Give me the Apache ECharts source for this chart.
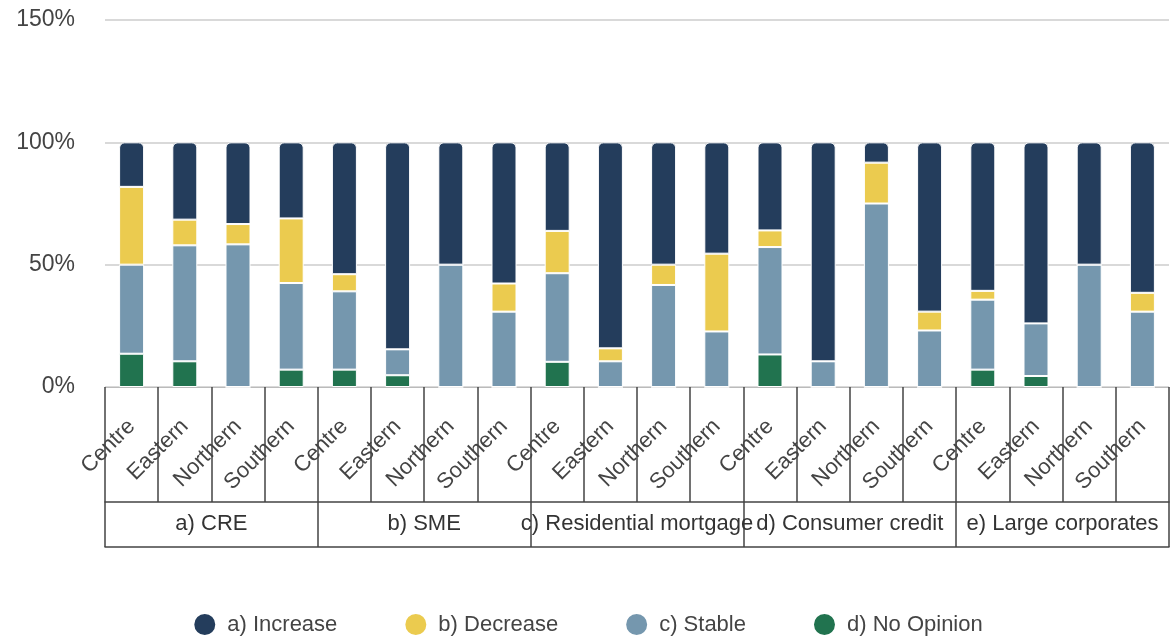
<!DOCTYPE html>
<html>
<head>
<meta charset="utf-8">
<script src="https://cdn.jsdelivr.net/npm/echarts@6/dist/echarts.min.js"></script>
<style>
html,body{margin:0;padding:0;background:#fff;}
#chart{width:1175px;height:639px;}
</style>
</head>
<body>
<div id="chart"></div>
<script>
// Categories
const regions = ["Centre","Eastern","Northern","Southern","Centre","Eastern","Northern","Southern","Centre","Eastern","Northern","Southern","Centre","Eastern","Northern","Southern","Centre","Eastern","Northern","Southern"];
const groups = ["a) CRE","b) SME","c) Residential mortgage","d) Consumer credit","e) Large corporates"];
const yTicks = [0, 50, 100, 150];

// Series values (percent), order follows regions
const noOpinion = [13.6, 10.5, 0, 7.1,   7.1, 4.8, 0, 0,     10.3, 0, 0, 0,      13.3, 0, 0, 0,      7.1, 4.5, 0, 0];
const stable    = [36.4, 47.4, 58.3, 35.4, 32.0, 10.6, 50, 30.8, 36.2, 10.5, 41.7, 22.7, 43.9, 10.5, 75.0, 23.1, 28.6, 21.5, 50, 30.8];
const decrease  = [31.8, 10.5, 8.3, 26.4, 7.0, 0, 0, 11.5,   17.3, 5.3, 8.3, 31.8, 6.8, 0, 16.7, 7.7,   3.6, 0, 0, 7.7];
const increase  = [18.2, 31.6, 33.4, 31.1, 53.9, 84.6, 50, 57.7, 36.2, 84.2, 50, 45.5, 36.0, 89.5, 8.3, 69.2, 60.7, 74.0, 50, 61.5];

const names = ["a) Increase","b) Decrease","c) Stable","d) No Opinion"];
const colors = {inc:"#243d5c", dec:"#ebcb4f", sta:"#7597ae", no:"#21734f"};
const FONT = "'Liberation Sans', Arial, sans-serif";
const lineCol = "#444";

const chart = echarts.init(document.getElementById('chart'));
function bar(name, data, color, top){
  return {
    name: name, type: 'bar', stack: 'all', data: data, barWidth: 25,
    itemStyle: {color: color, borderColor: '#fff', borderWidth: 1, borderRadius: top ? [5,5,0,0] : 0},
    emphasis: {disabled: true}
  };
}
chart.setOption({
  animation: false,
  textStyle: {fontFamily: FONT},
  grid: {left: 105, right: 6, top: 20, bottom: 252, containLabel: false},
  legend: {
    data: names, top: 607, left: 'center', icon: 'circle', itemWidth: 23, itemHeight: 23, itemGap: 66,
    textStyle: {fontSize: 22, color: '#444', fontFamily: FONT, padding: [0, 0, 0, 6]}
  },
  yAxis: {
    type: 'value', min: yTicks[0], max: yTicks[yTicks.length-1], interval: 50,
    axisLine: {show: false}, axisTick: {show: false},
    axisLabel: {formatter: '{value}%', fontSize: 23, color: '#444', margin: 30, fontFamily: FONT},
    splitLine: {lineStyle: {color: '#cccccc', width: 1.5}}
  },
  xAxis: [
    {
      type: 'category', data: regions, position: 'bottom',
      axisLine: {show: true, lineStyle: {color: '#bbb', width: 1}},
      axisTick: {show: true, interval: 0, length: 115, lineStyle: {color: lineCol, width: 1.5}},
      axisLabel: {interval: 0, rotate: 45, fontSize: 22, color: '#444', margin: 36, fontFamily: FONT}
    },
    {
      type: 'category', data: groups, position: 'bottom', offset: 115,
      axisLine: {show: true, lineStyle: {color: lineCol, width: 1.5}},
      axisTick: {show: true, interval: 0, length: 45, lineStyle: {color: lineCol, width: 1.5}},
      axisLabel: {interval: 0, fontSize: 22, color: '#333', margin: 11, fontFamily: FONT}
    },
    {
      type: 'category', data: groups, position: 'bottom', offset: 160,
      axisLine: {show: true, lineStyle: {color: lineCol, width: 1.5}},
      axisTick: {show: false}, axisLabel: {show: false}
    }
  ],
  series: [
    bar(names[3], noOpinion, colors.no, false),
    bar(names[2], stable, colors.sta, false),
    bar(names[1], decrease, colors.dec, false),
    bar(names[0], increase, colors.inc, true)
  ]
});
</script>
</body>
</html>
